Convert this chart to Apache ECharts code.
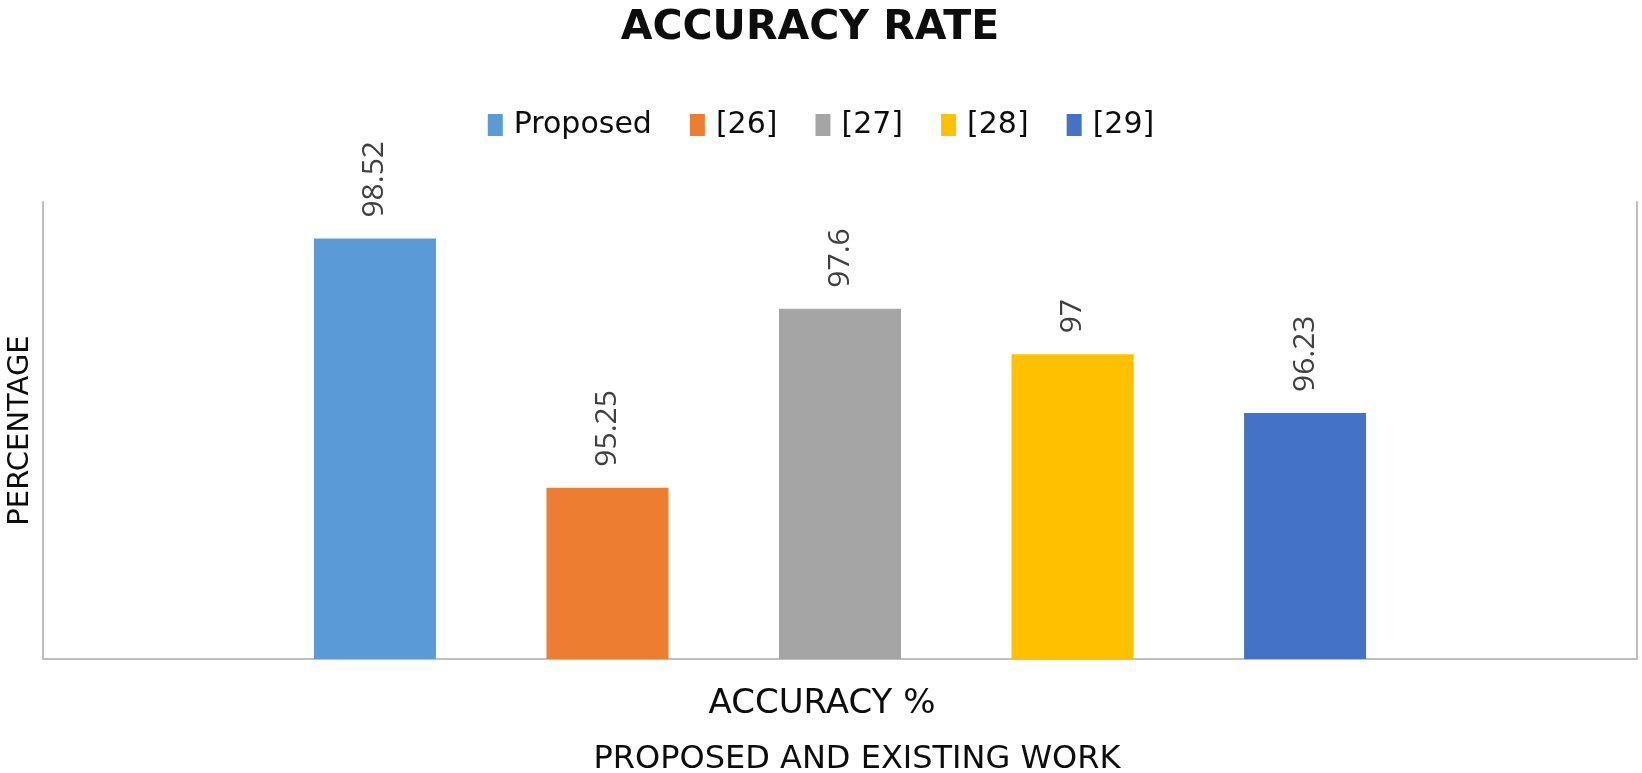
<!DOCTYPE html>
<html>
<head>
<meta charset="utf-8">
<script src="https://cdn.jsdelivr.net/npm/echarts@6/dist/echarts.min.js"></script>
<style>
  html, body { margin: 0; padding: 0; background: #fff; }
  #main { width: 1642px; height: 773px; }
</style>
</head>
<body>
<div id="main"></div>
<script>
// chart values
const categories = ['ACCURACY %'];
const seriesNames = ['Proposed', '[26]', '[27]', '[28]', '[29]'];
const accuracy = [98.52, 95.25, 97.6, 97, 96.23];
const colors = ['#5B9BD5', '#ED7D31', '#A5A5A5', '#FFC000', '#4472C4'];

const axisGrey = '#BFBFBF';

const series = seriesNames.map((name, i) => ({
    name: name,
    type: 'bar',
    data: [accuracy[i]],
    barWidth: 122,
    barGap: '90.6%',
    itemStyle: { color: colors[i] },
    label: {
        show: true,
        position: 'top',
        rotate: 90,
        align: 'left',
        verticalAlign: 'middle',
        distance: 21,
        color: '#404040',
        fontFamily: 'Open Sans',
        fontSize: 30
    }
}));

const chart = echarts.init(document.getElementById('main'));
chart.setOption({
    animation: false,
    backgroundColor: '#fff',
    title: {
        text: 'ACCURACY RATE',
        left: 805,
        textAlign: 'center',
        top: 3,
        textStyle: {
            fontFamily: 'DejaVu Sans',
            fontWeight: 'bold',
            fontSize: 41,
            color: '#0d0d0d'
        }
    },
    legend: {
        data: seriesNames,
        left: 'center',
        top: 105,
        itemWidth: 15,
        itemHeight: 22,
        itemGap: 38,
        icon: 'rect',
        textStyle: {
            fontFamily: 'DejaVu Sans',
            fontSize: 30,
            color: '#0d0d0d',
            padding: [0, 0, 0, 6]
        }
    },
    grid: {
        left: 43, right: 5, top: 202, bottom: 114,
        containLabel: false,
        outerBoundsMode: 'none'
    },
    xAxis: {
        type: 'category',
        data: categories,
        axisTick: { show: false },
        axisLine: { lineStyle: { color: axisGrey, width: 2 } },
        axisLabel: {
            margin: 28,
            padding: [0, 36, 0, 0],
            fontFamily: 'DejaVu Sans',
            fontSize: 34,
            color: '#0d0d0d'
        },
        name: 'PROPOSED AND EXISTING WORK',
        nameLocation: 'middle',
        nameGap: 85,
        nameTextStyle: {
            fontFamily: 'DejaVu Sans',
            fontSize: 32,
            color: '#0d0d0d',
            padding: [0, 0, 0, 34]
        }
    },
    yAxis: [
        {
            type: 'value',
            min: 93,
            max: 99,
            axisLabel: { show: false },
            axisTick: { show: false },
            splitLine: { show: false },
            axisLine: { show: true, lineStyle: { color: axisGrey, width: 2 } },
            name: 'PERCENTAGE',
            nameLocation: 'middle',
            nameGap: 8,
            nameTextStyle: {
                fontFamily: 'DejaVu Sans',
                fontSize: 29,
                color: '#0d0d0d'
            }
        },
        {
            type: 'value',
            position: 'right',
            min: 93,
            max: 99,
            axisLabel: { show: false },
            axisTick: { show: false },
            splitLine: { show: false },
            axisLine: { show: true, lineStyle: { color: axisGrey, width: 2 } }
        }
    ],
    series: series
});
</script>
</body>
</html>
